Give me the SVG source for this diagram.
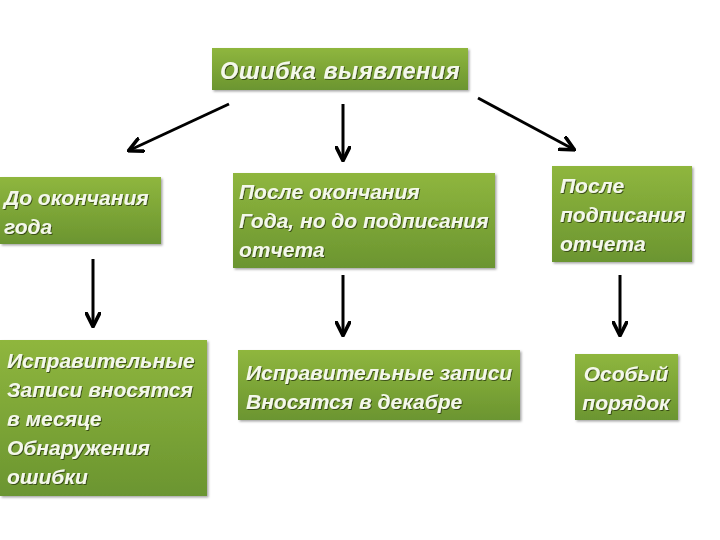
<svg xmlns="http://www.w3.org/2000/svg" width="720" height="540" viewBox="0 0 720 540">
<defs>
<linearGradient id="g" x1="0" y1="0" x2="0" y2="1">
<stop offset="0" stop-color="#8fb63e"/>
<stop offset="1" stop-color="#6b9530"/>
</linearGradient>
<filter id="sh" x="-10%" y="-10%" width="130%" height="130%">
<feDropShadow dx="1.5" dy="1.5" stdDeviation="1" flood-color="#000" flood-opacity="0.35"/>
</filter>
<filter id="ts" x="-5%" y="-20%" width="110%" height="150%">
<feDropShadow dx="1" dy="1" stdDeviation="0.6" flood-color="#2a3a10" flood-opacity="0.8"/>
</filter>
<marker id="ah" viewBox="0 0 10 10" refX="8" refY="5" markerWidth="5.5" markerHeight="5.5" orient="auto" markerUnits="strokeWidth">
<path d="M0,0.5 L9,5 L0,9.5" fill="none" stroke="#000" stroke-width="2.2"/>
</marker>
</defs>
<style>
.box{fill:url(#g);filter:url(#sh);}
.t{font-family:"Liberation Sans",Arial,sans-serif;font-weight:bold;font-style:italic;font-size:21px;fill:#f4f8ea;filter:url(#ts);}
.c{stroke:#000;stroke-width:3;fill:none;marker-end:url(#ah);}
</style>
<rect width="720" height="540" fill="#fff"/>
<g id="top">
<rect class="box" x="212" y="48" width="256" height="42"/>
<text class="t" x="340" y="79" text-anchor="middle" style="font-size:23.5px;letter-spacing:0.5px">Ошибка выявления</text>
</g>
<g id="a">
<rect class="box" x="0" y="177" width="161" height="67"/>
<text class="t" x="4" y="205">До окончания</text>
<text class="t" x="4" y="234">года</text>
</g>
<g id="b">
<rect class="box" x="233" y="173" width="262" height="95"/>
<text class="t" x="239" y="199">После окончания</text>
<text class="t" x="239" y="228">Года, но до подписания</text>
<text class="t" x="239" y="257">отчета</text>
</g>
<g id="c">
<rect class="box" x="552" y="166" width="140" height="96"/>
<text class="t" x="560" y="193">После</text>
<text class="t" x="560" y="222">подписания</text>
<text class="t" x="560" y="251">отчета</text>
</g>
<g id="d">
<rect class="box" x="0" y="340" width="207" height="156"/>
<text class="t" x="7" y="368">Исправительные</text>
<text class="t" x="7" y="397">Записи вносятся</text>
<text class="t" x="7" y="426">в месяце</text>
<text class="t" x="7" y="455">Обнаружения</text>
<text class="t" x="7" y="484">ошибки</text>
</g>
<g id="e">
<rect class="box" x="238" y="350" width="282" height="70"/>
<text class="t" x="246" y="380">Исправительные записи</text>
<text class="t" x="246" y="409">Вносятся в декабре</text>
</g>
<g id="f">
<rect class="box" x="575" y="354" width="103" height="66"/>
<text class="t" x="626" y="381" text-anchor="middle">Особый</text>
<text class="t" x="626" y="410" text-anchor="middle">порядок</text>
</g>
<g id="connectors">
<line class="c" x1="229" y1="104" x2="130" y2="150"/>
<line class="c" x1="343" y1="104" x2="343" y2="159"/>
<line class="c" x1="478" y1="98" x2="573" y2="149"/>
<line class="c" x1="93" y1="259" x2="93" y2="325"/>
<line class="c" x1="343" y1="275" x2="343" y2="334"/>
<line class="c" x1="620" y1="275" x2="620" y2="334"/>
</g>
</svg>
